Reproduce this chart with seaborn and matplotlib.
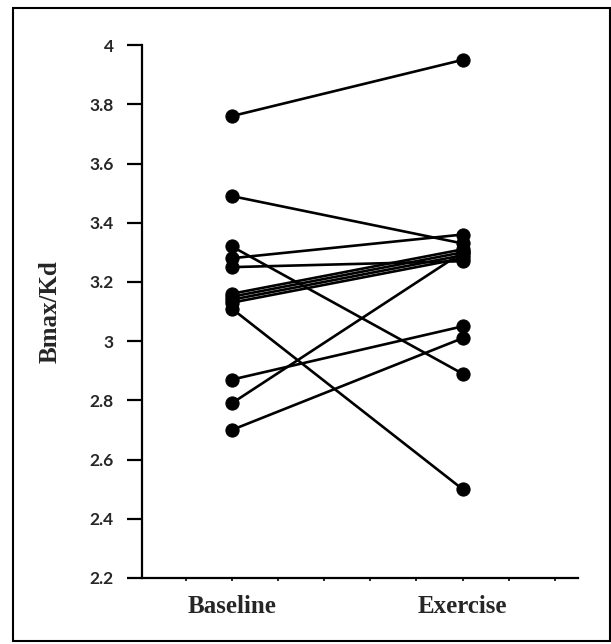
import matplotlib
matplotlib.use("Agg")
import matplotlib.pyplot as plt
from matplotlib.ticker import MultipleLocator, FixedLocator
from matplotlib.patches import Rectangle
import seaborn as sns
import pandas as pd

conditions = ["Baseline", "Exercise"]
baseline = [3.76, 3.49, 3.32, 3.28, 3.25, 3.16, 3.15, 3.14, 3.13, 3.11, 2.87, 2.79, 2.70]
exercise = [3.95, 3.33, 2.89, 3.36, 3.27, 3.31, 3.30, 3.29, 3.28, 2.50, 3.05, 3.30, 3.01]
y_ticks = [2.2, 2.4, 2.6, 2.8, 3.0, 3.2, 3.4, 3.6, 3.8, 4.0]
y_tick_labels = ["2.2", "2.4", "2.6", "2.8", "3", "3.2", "3.4", "3.6", "3.8", "4"]

rows = []
for i, (b, e) in enumerate(zip(baseline, exercise)):
    rows.append({"subject": i, "condition": conditions[0], "value": b})
    rows.append({"subject": i, "condition": conditions[1], "value": e})
df = pd.DataFrame(rows)

sns.set_style("ticks")
plt.rcParams["font.family"] = ["Lato", "DejaVu Sans"]

fig = plt.figure(figsize=(6.11, 6.44), dpi=100)
ax = fig.add_axes([0.232, 0.1025, 0.714, 0.8275])

sns.lineplot(data=df, x="condition", y="value", units="subject", estimator=None,
             color="black", linewidth=1.9, marker="o", markersize=9.5,
             markeredgecolor="black", markerfacecolor="black", sort=False, ax=ax)

ax.set_xlim(-0.39, 1.5)
ax.set_ylim(2.2, 4.0)
ax.yaxis.set_major_locator(FixedLocator(y_ticks))
ax.set_yticklabels(y_tick_labels, fontsize=12.5, fontweight="bold", family=["Lato", "DejaVu Sans"])
ax.set_xticks([0, 1])
ax.set_xticklabels(conditions, fontsize=18, fontweight="bold", family=["Liberation Serif"])
ax.xaxis.set_minor_locator(MultipleLocator(0.2))

ax.tick_params(axis="y", length=11, width=1.6, pad=9, color="black")
ax.tick_params(axis="x", which="both", length=2.5, width=1.2, pad=10, direction="out", color="black")

ax.set_xlabel("")
ax.set_ylabel("Bmax/Kd", fontsize=18, fontweight="bold", family=["Liberation Serif"], labelpad=20)

for s in ["top", "right"]:
    ax.spines[s].set_visible(False)
for s in ["left", "bottom"]:
    ax.spines[s].set_linewidth(1.6)
    ax.spines[s].set_color("black")

fig.add_artist(Rectangle((13 / 611, 1 - 641 / 644), (610 - 13) / 611, (641 - 8) / 644,
                         transform=fig.transFigure, fill=False, edgecolor="black", linewidth=1.5))

fig.savefig("out.png", dpi=100, facecolor="white")
